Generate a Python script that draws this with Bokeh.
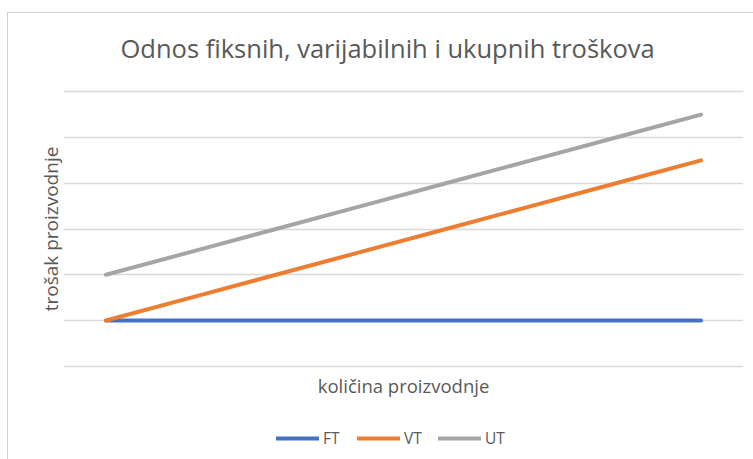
from bokeh.plotting import figure
from bokeh.models import Range1d, FixedTicker, Legend, LegendItem, Label
from bokeh.layouts import column
from bokeh.embed import file_html
from bokeh.resources import INLINE

# Data
kolicina = [1, 2, 3, 4, 5, 6, 7, 8]
FT = [1, 1, 1, 1, 1, 1, 1, 1]
VT = [1, 1.5, 2, 2.5, 3, 3.5, 4, 4.5]
UT = [2, 2.5, 3, 3.5, 4, 4.5, 5, 5.5]
grid_levels = [0, 1, 2, 3, 4, 5, 6]
series_names = ["FT", "VT", "UT"]
series_colors = ["#4472C4", "#ED7D31", "#A5A5A5"]
series_values = [FT, VT, UT]
title_text = "Odnos fiksnih, varijabilnih i ukupnih troškova"

FONT = "Open Sans"
TXT = "#595959"


def blank(fig):
    fig.axis.visible = False
    fig.grid.grid_line_color = None
    fig.outline_line_color = None
    fig.background_fill_color = "white"
    fig.border_fill_color = "white"


# title strip
t = figure(width=745, height=75, output_backend="svg", toolbar_location=None,
           x_range=Range1d(0, 680), y_range=Range1d(0, 75),
           min_border_left=0, min_border_right=0, min_border_top=0, min_border_bottom=0)
blank(t)
t.add_layout(Label(x=57, y=41, text=title_text, text_font=FONT, text_font_size="25.5px",
                   text_color=TXT, text_align="left", text_baseline="middle"))

# main chart
p = figure(width=745, height=323, output_backend="svg", toolbar_location=None,
           x_range=Range1d(0.5, 8.5), y_range=Range1d(-0.05, 6.05),
           min_border_left=55, min_border_right=10, min_border_top=1, min_border_bottom=43)
p.outline_line_color = None
p.background_fill_color = "white"
p.border_fill_color = "white"

for ax in (p.xaxis[0], p.yaxis[0]):
    ax.ticker = FixedTicker(ticks=[])
    ax.axis_line_color = None
    ax.major_tick_line_color = None
    ax.minor_tick_line_color = None
    ax.major_tick_out = 0
    ax.major_tick_in = 0
    ax.major_label_standoff = 0
    ax.major_label_text_font_size = "0px"
    ax.axis_label_text_font = FONT
    ax.axis_label_text_font_style = "normal"
    ax.axis_label_text_color = TXT
p.xaxis.axis_label_text_font_size = "18.5px"
p.yaxis.axis_label_text_font_size = "19px"
p.xaxis.axis_label = "količina proizvodnje"
p.yaxis.axis_label = "trošak proizvodnje"
p.xaxis.axis_label_standoff = 4
p.yaxis.axis_label_standoff = 0

p.xgrid.grid_line_color = None
p.ygrid.ticker = FixedTicker(ticks=grid_levels)
p.ygrid.grid_line_color = "#d9d9d9"
p.ygrid.grid_line_width = 1.5

for vals, c in zip(series_values, series_colors):
    p.line(kolicina, vals, line_color=c, line_width=4, line_cap="round")

# legend strip below the chart (same series, drawn out of view; only the legend shows)
q = figure(width=745, height=48, output_backend="svg", toolbar_location=None,
           x_range=Range1d(0.5, 8.5), y_range=Range1d(100, 101),
           min_border_left=0, min_border_right=0, min_border_top=0, min_border_bottom=0)
blank(q)
items = []
for name, vals, c in zip(series_names, series_values, series_colors):
    r = q.line(kolicina, vals, line_color=c, line_width=4, line_cap="round")
    items.append(LegendItem(label=name, renderers=[r]))
legend = Legend(items=items, orientation="horizontal", location=(213, 10),
                padding=0, margin=0, spacing=14, label_standoff=4,
                glyph_width=43, glyph_height=20, label_height=20,
                label_text_font=FONT, label_text_font_size="15.5px", label_text_color=TXT,
                border_line_color=None, background_fill_alpha=0)
q.add_layout(legend, "center")

layout = column(t, p, q, spacing=0)
layout.styles = {"margin-left": "7px", "margin-top": "12px",
                 "border-left": "1px solid #d0d0d0", "border-top": "1px solid #d0d0d0"}
open("out.html", "w").write(file_html(layout, INLINE))
